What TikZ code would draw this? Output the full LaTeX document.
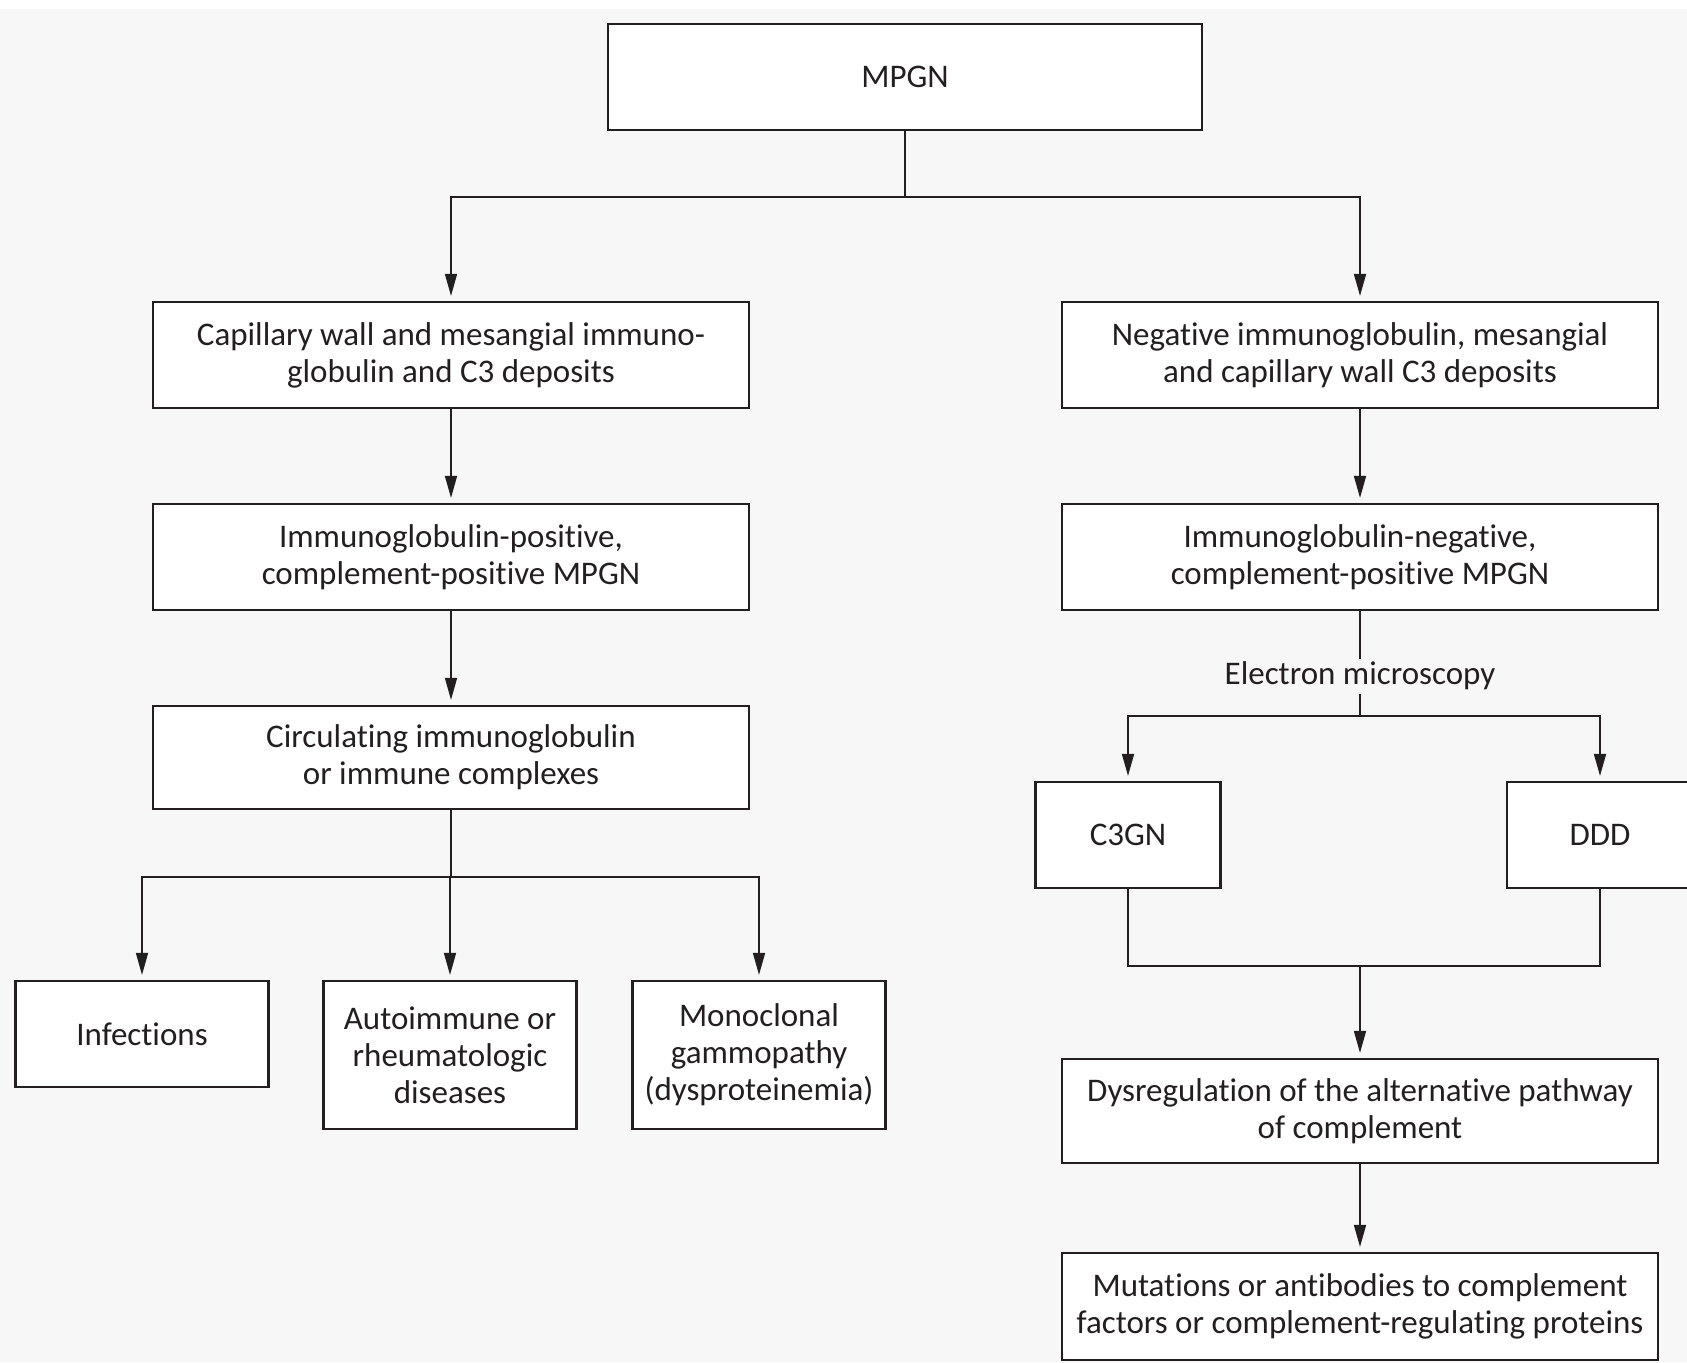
\documentclass[tikz,border=0pt]{standalone}
\usepackage{fontspec}
\setmainfont{Carlito}[Ligatures=NoCommon]
\usetikzlibrary{arrows.meta}
\definecolor{bggray}{HTML}{F7F7F7}
\definecolor{ink}{HTML}{231F20}
\begin{document}
\begin{tikzpicture}[x=0.5pt,y=-0.5pt,
        box/.style={draw=ink, fill=white, line width=1.1pt, align=center, inner sep=0pt,
                    text=ink, font=\fontsize{16.5}{18.5}\selectfont, minimum height=53pt},
        widebox/.style={box, minimum width=298pt},
        smallbox/.style={box, minimum width=126.5pt},
        arr/.style={draw=ink, line width=0.8pt, -{Triangle[length=11pt,width=6pt]}, shorten >=2.5pt},
        link/.style={draw=ink, line width=0.8pt}]
            \useasboundingbox (0,0) rectangle (1687,1362);
            \fill[white] (0,0) rectangle (1687,1362);
            \fill[bggray] (0,9) rectangle (1687,1362);

            \node[box, minimum width=297pt] (mpgn) at (905,77) {MPGN};
            \node[widebox] (capwall) at (451,355) {Capillary wall and mesangial immuno-\\globulin and C3 deposits};
            \node[widebox] (negig) at (1360,355) {Negative immunoglobulin, mesangial\\and capillary wall C3 deposits};
            \node[widebox] (igpos) at (451,557) {Immunoglobulin-positive,\\complement-positive MPGN};
            \node[widebox] (igneg) at (1360,557) {Immunoglobulin-negative,\\complement-positive MPGN};
            \node[widebox, minimum height=51.5pt] (circ) at (451,757.5) {Circulating immunoglobulin\\or immune complexes};
            \node[text=ink, font=\fontsize{16.5}{18.5}\selectfont, inner xsep=2pt, inner ysep=1.5pt] (em) at (1360,676) {Electron microscopy};
            \node[box, minimum width=92.5pt] (c3gn) at (1128,835) {C3GN};
            \node[box, minimum width=93pt] (ddd) at (1600,835) {DDD};
            \node[smallbox] (infect) at (142,1034) {Infections};
            \node[smallbox, minimum height=74pt] (autoimm) at (450,1055) {Autoimmune or\\rheumatologic\\diseases};
            \node[smallbox, minimum height=74pt] (mono) at (759,1055) {Monoclonal\\gammopathy\\(dysproteinemia)};
            \node[widebox, minimum height=52pt] (dysreg) at (1360,1111) {Dysregulation of the alternative pathway\\of complement};
            \node[widebox, minimum height=53.5pt] (mut) at (1360,1306.5) {Mutations or antibodies to complement\\factors or complement-regulating proteins};

            \coordinate (top) at (905,197);
            \coordinate (causes) at (451,877);
            \coordinate (emsplit) at (1360,716);
            \coordinate (join) at (1360,966);

            \draw[link] (mpgn.south) -- (top);
            \draw[arr] (top) -| (capwall.north);
            \draw[arr] (top) -| (negig.north);
            \draw[arr] (capwall) -- (igpos);
            \draw[arr] (igpos) -- (circ);
            \draw[link] (circ.south) -- (causes);
            \foreach \n in {infect,autoimm,mono}
            {
                    \draw[arr] (causes) -| (\n.north);
            }
            \draw[arr] (negig) -- (igneg);
            \draw[link] (igneg.south) -- (em.north);
            \draw[link] (em.south) -- (emsplit);
            \foreach \n in {c3gn,ddd}
            {
                    \draw[arr] (emsplit) -| (\n.north);
            }
            \draw[link] (c3gn.south) |- (join) -| (ddd.south);
            \draw[arr] (join) -- (dysreg);
            \draw[arr] (dysreg) -- (mut);
        \end{tikzpicture}
\end{document}
